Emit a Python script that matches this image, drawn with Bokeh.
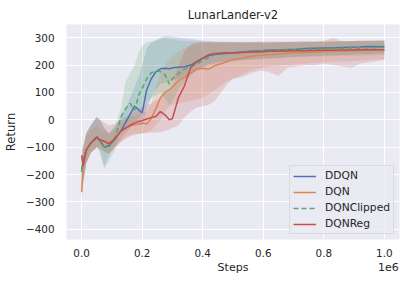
from bokeh.plotting import figure
from bokeh.models import FixedTicker, Legend, LegendItem, LinearAxis, Range1d
from bokeh.embed import file_html
from bokeh.resources import INLINE

# ---- data (steps in thousands) ----
steps_k = [0, 5, 15, 30, 50, 60, 75, 90, 110, 130, 145, 160, 175, 190, 200, 215, 230, 245, 260, 275,
           290, 300, 320, 340, 360, 380, 400, 420, 440, 460, 480, 500, 530, 560, 590, 620, 650, 680,
           710, 740, 770, 800, 830, 860, 890, 920, 950, 980, 1000]

ddqn_mean = [-186, -150, -110, -85, -62, -75, -100, -95, -70, -40, -10, 20, 50, 35, 25, 110, 150, 175, 186, 188,
             186, 190, 192, 194, 200, 212, 225, 235, 238, 240, 243, 245, 248, 250, 252, 255, 254, 257,
             258, 260, 261, 262, 262, 264, 265, 266, 268, 267, 268]
ddqn_lo = [-240, -220, -160, -120, -100, -110, -170, -130, -100, -70, -50, -30, -10, -20, -20, 40, 80, 110, 130, 135,
           140, 145, 150, 160, 170, 180, 190, 200, 205, 210, 212, 215, 218, 220, 222, 224, 225, 228,
           230, 232, 233, 235, 236, 237, 238, 240, 240, 242, 242]
ddqn_hi = [-140, -100, -50, -20, 10, 0, -30, -50, -30, 10, 40, 80, 120, 160, 200, 260, 280, 290, 300, 305,
           305, 303, 300, 298, 295, 292, 290, 288, 285, 285, 284, 283, 282, 282, 281, 280, 281, 282,
           282, 283, 284, 285, 286, 287, 288, 289, 290, 290, 290]

dqn_mean = [-264, -170, -115, -85, -65, -75, -80, -85, -65, -45, -30, -22, -18, -15, -12, -15, 5, 40, 80, 100,
            110, 120, 143, 155, 170, 185, 188, 185, 198, 205, 212, 220, 225, 232, 236, 238, 240, 243,
            245, 246, 248, 249, 250, 251, 252, 253, 254, 255, 255]
dqn_lo = [-310, -240, -160, -120, -100, -105, -120, -120, -100, -80, -65, -55, -50, -50, -50, -45, -40, -20, 0, 30,
          50, 55, 60, 65, 70, 75, 80, 95, 110, 125, 140, 150, 165, 180, 188, 195, 198, 200,
          203, 205, 208, 210, 212, 213, 215, 216, 218, 220, 220]
dqn_hi = [-200, -110, -60, -40, -20, -30, -40, -50, -30, -10, 5, 12, 15, 20, 25, 30, 60, 120, 170, 200,
          220, 230, 250, 262, 270, 275, 280, 280, 281, 281, 282, 282, 282, 283, 283, 283, 284, 284,
          284, 285, 285, 285, 286, 286, 287, 287, 288, 288, 288]

clip_mean = [-190, -150, -110, -85, -65, -78, -100, -100, -65, 10, 40, 60, 35, 95, 115, 150, 172, 178, 176, 165,
             130, 150, 170, 185, 195, 205, 215, 228, 238, 240, 242, 243, 246, 248, 252, 253, 254, 256,
             257, 258, 258, 259, 260, 261, 262, 262, 263, 264, 265]
clip_lo = [-260, -230, -160, -120, -100, -120, -180, -150, -110, -30, -40, -20, -10, 10, 30, 60, 80, 90, 100, 80,
           50, 70, 110, 140, 160, 180, 195, 205, 210, 212, 214, 215, 218, 220, 223, 225, 226, 228,
           229, 230, 231, 232, 233, 234, 235, 235, 236, 237, 238]
clip_hi = [-140, -100, -50, -20, 10, 0, -30, -50, -20, 40, 140, 170, 200, 250, 270, 283, 285, 290, 295, 300,
           295, 295, 290, 288, 286, 285, 284, 283, 283, 282, 282, 282, 282, 282, 283, 283, 283, 284,
           284, 285, 285, 286, 286, 287, 287, 288, 288, 289, 290]

reg_mean = [-130, -170, -110, -85, -64, -72, -78, -88, -70, -40, -30, -20, -12, -5, -3, 3, 8, 12, 30, 18,
            0, 5, 82, 125, 190, 212, 225, 238, 242, 244, 245, 244, 246, 248, 248, 250, 250, 251,
            252, 252, 253, 254, 254, 255, 255, 256, 256, 256, 256]
reg_lo = [-200, -230, -160, -120, -100, -105, -115, -125, -100, -80, -70, -60, -55, -52, -50, -48, -47, -46, -45, -40,
          -35, -30, -20, 10, 30, 45, 50, 55, 70, 100, 130, 150, 155, 170, 180, 175, 160, 190,
          195, 200, 198, 205, 200, 195, 190, 205, 210, 215, 220]
reg_hi = [-90, -100, -50, -20, 10, 0, -10, -20, -15, 0, 10, 20, 30, 40, 45, 55, 60, 70, 80, 95,
          110, 130, 200, 250, 275, 283, 285, 285, 285, 285, 285, 285, 285, 285, 286, 286, 286, 286,
          287, 287, 287, 288, 300, 288, 288, 289, 289, 289, 290]

series_names = ["DDQN", "DQN", "DQNClipped", "DQNReg"]
series_means = [ddqn_mean, dqn_mean, clip_mean, reg_mean]
series_los = [ddqn_lo, dqn_lo, clip_lo, reg_lo]
series_his = [ddqn_hi, dqn_hi, clip_hi, reg_hi]
colors = ["#4C72B0", "#DD8452", "#55A868", "#C44E52"]
dashes = ["solid", "solid", "5 3", "solid"]

y_ticks = [-400, -300, -200, -100, 0, 100, 200, 300]
x_ticks = [0, 200000, 400000, 600000, 800000, 1000000]
x_tick_labels = ["0.0", "0.2", "0.4", "0.6", "0.8", "1.0"]
x_title = "Steps"
x_offset_text = "1e6"

steps = [s * 1000 for s in steps_k]

TXT = "#262626"
FONT = "DejaVu Sans"

X0, X1 = -50000, 1050000
p = figure(width=411, height=284, output_backend="svg", toolbar_location=None,
           x_range=Range1d(X0, X1), y_range=Range1d(-437, 348),
           min_border_left=65, min_border_right=12, min_border_top=24, min_border_bottom=45)
p.background_fill_color = "#EAEAF2"
p.border_fill_color = "white"
p.outline_line_color = None

p.title.text = "LunarLander-v2"
p.title.align = "center"
p.title.text_font = FONT
p.title.text_font_size = "11.6px"
p.title.text_font_style = "normal"
p.title.text_color = TXT
p.title.standoff = 5
p.title.offset = 0


def style_axis(ax, size):
    ax.axis_line_color = None
    ax.major_tick_line_color = None
    ax.minor_tick_line_color = None
    ax.major_tick_in = 0
    ax.major_tick_out = 0
    ax.minor_tick_in = 0
    ax.minor_tick_out = 0
    ax.major_label_text_font = FONT
    ax.major_label_text_font_size = size
    ax.major_label_text_color = TXT
    ax.axis_label_text_font = FONT
    ax.axis_label_text_font_size = "11.6px"
    ax.axis_label_text_font_style = "normal"
    ax.axis_label_text_color = TXT


xax = p.xaxis[0]
yax = p.yaxis[0]
style_axis(xax, "10.4px")
style_axis(yax, "10.4px")

xax.ticker = FixedTicker(ticks=x_ticks)
xax.major_label_overrides = {t: l for t, l in zip(x_ticks, x_tick_labels)}
xax.major_label_standoff = 9
yax.ticker = FixedTicker(ticks=y_ticks)
yax.major_label_overrides = {t: str(t).replace("-", "\u2212") for t in y_ticks}
yax.axis_label = "Return"
yax.major_label_standoff = 12
yax.axis_label_standoff = 5

# second bottom row: axis title "Steps" centred and the offset text "1e6" at the right
mid = (X0 + X1) / 2
off_pos = 1013000
xax2 = LinearAxis(ticker=FixedTicker(ticks=[mid, off_pos]),
                  major_label_overrides={mid: x_title, off_pos: x_offset_text})
style_axis(xax2, "11px")
xax2.major_label_standoff = 1
p.add_layout(xax2, "below")

p.xgrid.ticker = FixedTicker(ticks=x_ticks)
p.ygrid.ticker = FixedTicker(ticks=y_ticks)
p.grid.grid_line_color = "white"
p.grid.grid_line_width = 1

for lo, hi, c in zip(series_los, series_his, colors):
    p.varea(x=steps, y1=lo, y2=hi, fill_color=c, fill_alpha=0.2)

items = []
for name, m, c, d in zip(series_names, series_means, colors, dashes):
    r = p.line(steps, m, line_color=c, line_width=1.5, line_dash=d)
    items.append(LegendItem(label=name, renderers=[r]))

legend = Legend(items=items, location="bottom_right")
legend.label_text_font = FONT
legend.label_text_font_size = "10.7px"
legend.label_text_color = TXT
legend.background_fill_color = "#EAEAF2"
legend.background_fill_alpha = 0.8
legend.border_line_color = "#CCCCCC"
legend.border_line_width = 1
legend.glyph_width = 23
legend.glyph_height = 12
legend.label_height = 12
legend.spacing = 3
legend.padding = 3
legend.margin = 5
legend.label_standoff = 9
p.add_layout(legend)

open("out.html", "w").write(file_html(p, INLINE))
